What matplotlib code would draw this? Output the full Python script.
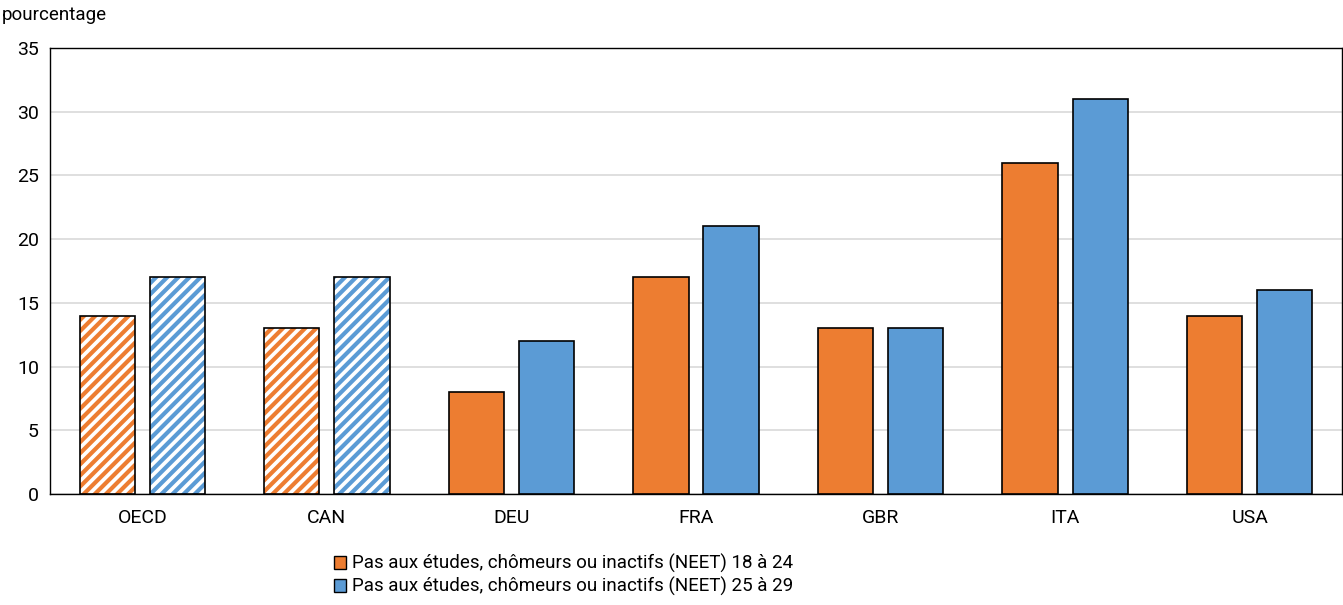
import numpy as np
import matplotlib.pyplot as plt
from matplotlib.patches import Patch

pays = ["OECD", "CAN", "DEU", "FRA", "GBR", "ITA", "USA"]
neet_18_24 = [14, 13, 8, 17, 13, 26, 14]
neet_25_29 = [17, 17, 12, 21, 13, 31, 16]
hachures = [True, True, False, False, False, False, False]
labels = ["Pas aux études, chômeurs ou inactifs (NEET) 18 à 24",
          "Pas aux études, chômeurs ou inactifs (NEET) 25 à 29"]

orange = '#ED7D31'
bleu = '#5B9BD5'

plt.rcParams['font.family'] = ['Roboto', 'DejaVu Sans']
plt.rcParams['hatch.linewidth'] = 3.0

fig = plt.figure(figsize=(13.43, 6.05), dpi=100)
ax = fig.add_axes([50 / 1343, 1 - 494 / 605, 1292 / 1343, 446 / 605])

x = np.arange(len(pays))
ancho = 0.30
desfase = 0.19

for serie, color, signo in [(neet_18_24, orange, -1), (neet_25_29, bleu, 1)]:
    for i, v in enumerate(serie):
        pos = x[i] + signo * desfase
        if hachures[i]:
            ax.bar(pos, v, width=ancho, facecolor='white', edgecolor=color,
                   hatch='///', linewidth=0, zorder=3)
            ax.bar(pos, v, width=ancho, fill=False, edgecolor='black',
                   linewidth=1.2, zorder=4)
        else:
            ax.bar(pos, v, width=ancho, color=color, edgecolor='black',
                   linewidth=1.2, zorder=3)

ax.set_xlim(-0.5, len(pays) - 0.5)
ax.set_ylim(0, 35)
ax.set_yticks(np.arange(0, 36, 5))
ax.set_xticks(x)
ax.set_xticklabels(pays)
ax.tick_params(axis='both', length=0, labelsize=14, pad=8)
ax.tick_params(axis='x', pad=11)
ax.yaxis.grid(True, color='#d9d9d9', linewidth=1.2, zorder=0)
ax.set_axisbelow(True)
for s in ax.spines.values():
    s.set_color('black')
    s.set_linewidth(1.0)

fig.text(2 / 1343, 1 - 15 / 605, 'pourcentage', fontsize=13.5, va='center', ha='left')

handles = [Patch(facecolor=orange, edgecolor='black', linewidth=1),
           Patch(facecolor=bleu, edgecolor='black', linewidth=1)]
fig.legend(handles, labels, loc='upper left', bbox_to_anchor=(334 / 1343, 1 - 554 / 605),
           frameon=False, fontsize=13.5, handlelength=0.65, handleheight=0.65,
           handletextpad=0.3, labelspacing=0.2, borderpad=0, borderaxespad=0)

plt.savefig('out.png', dpi=100)
plt.close()
